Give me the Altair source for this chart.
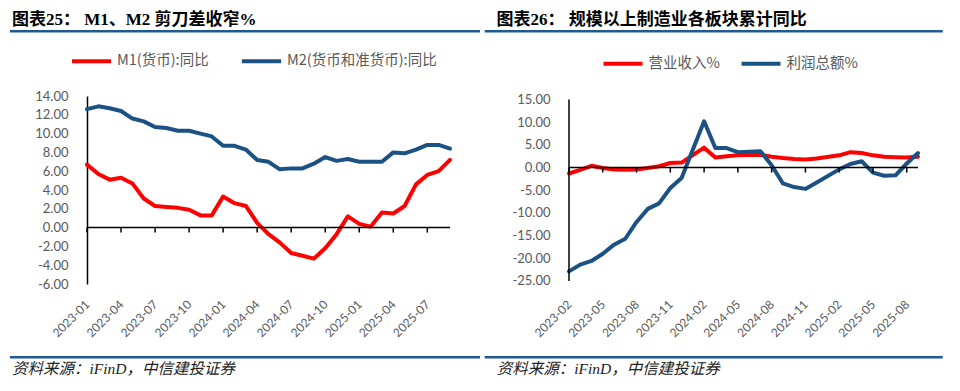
import altair as alt
import pandas as pd

# ---------------- data ----------------
left_months = [f"{y}-{m:02d}" for y in (2023, 2024, 2025) for m in range(1, 13)][:33]  # 2023-01 .. 2025-09
left_ticks = left_months[::3]
left_names = ["M1(货币):同比", "M2(货币和准货币):同比"]
m1 = [6.7, 5.7, 5.1, 5.3, 4.7, 3.1, 2.3, 2.2, 2.1, 1.9, 1.3, 1.3,
      3.3, 2.6, 2.3, 0.5, -0.7, -1.6, -2.7, -3.0, -3.3, -2.2, -0.7, 1.2,
      0.4, 0.1, 1.6, 1.5, 2.3, 4.6, 5.6, 6.0, 7.2]
m2 = [12.6, 12.9, 12.7, 12.4, 11.6, 11.3, 10.7, 10.6, 10.3, 10.3, 10.0, 9.7,
      8.7, 8.7, 8.3, 7.2, 7.0, 6.2, 6.3, 6.3, 6.8, 7.5, 7.1, 7.3,
      7.0, 7.0, 7.0, 8.0, 7.9, 8.3, 8.8, 8.8, 8.4]

right_months = [f"{y}-{m:02d}" for y in (2023, 2024, 2025) for m in range(1, 13)][1:33]  # 2023-02 .. 2025-09
right_ticks = right_months[::3]
right_data_months = [m for m in right_months if not m.endswith("-01")]  # Jan merged into Jan-Feb
right_names = ["营业收入%", "利润总额%"]
revenue = [-1.3, -0.5, 0.4, -0.1, -0.4, -0.5, -0.4, -0.1, 0.3, 1.0, 1.1,
           4.4, 2.2, 2.5, 2.7, 2.8, 2.8, 2.4, 2.1, 1.9, 1.8, 2.0,
           2.7, 3.4, 3.2, 2.7, 2.4, 2.3, 2.2, 2.4]
profit = [-22.9, -21.4, -20.6, -19.0, -17.0, -15.7, -12.0, -9.1, -7.9, -4.5, -2.3,
          10.2, 4.3, 4.3, 3.4, 3.5, 3.6, 0.5, -3.5, -4.3, -4.7, -3.3,
          -0.4, 0.8, 1.4, -1.1, -1.8, -1.7, 0.9, 3.2]

left_title = "图表25：  M1、M2 剪刀差收窄%"
right_title = "图表26：  规模以上制造业各板块累计同比"
source = "资料来源：iFinD，中信建投证券"

# ---------------- style ----------------
RED = "#FF0000"
BLUE = "#1B5283"
RULE_BLUE = "#1F5A8E"
GRAY = "#595959"
H = 188
TITLE_FONT = "Liberation Serif, Noto Sans CJK SC"
CJK = "Noto Sans CJK SC"


def build(months, ticks, data_months, names, series, ydom, yvals, width,
          legend_x, legend_y, col_pad, title, title_x, rule_x1, rule_x2,
          src_x, manual_yrule, anchor=False):
    rows = []
    for name, vals in zip(names, series):
        for m, v in zip(data_months, vals):
            rows.append({"m": m, "s": name, "v": v})
    df = pd.DataFrame(rows)

    def px(v):  # pixel position of a value on this panel's y range (for axis decorations)
        return H * (ydom[1] - v) / (ydom[1] - ydom[0])

    zero_px = px(0)

    xenc = alt.X("m:O",
                 scale=alt.Scale(type="point", domain=months, padding=0),
                 axis=alt.Axis(values=ticks, labelAngle=315, labelAlign="right",
                               labelBaseline="middle", labelPadding=18,
                               ticks=False, tickSize=0, domain=False, grid=False,
                               title=None, labelFont="Lato", labelFontSize=12,
                               labelColor=GRAY, labelOverlap=False))
    yscale = alt.Scale(domain=ydom, nice=False, zero=False)
    yaxis = alt.Axis(values=yvals,
                     labelExpr="replace(format(datum.value, '.2f'), '\u2212', '-')",
                     domain=not manual_yrule, domainColor="black", domainWidth=1.5,
                     ticks=False, tickSize=0, labelPadding=19, grid=False,
                     title=None, labelFont="Lato", labelFontSize=13,
                     labelColor=GRAY, labelOverlap=False, labelBound=False,
                     labelFlush=False)

    lines = alt.Chart(df).mark_line(strokeWidth=4, strokeJoin="round", strokeCap="round").encode(
        x=xenc,
        y=alt.Y("v:Q", scale=yscale, axis=yaxis),
        color=alt.Color("s:N", scale=alt.Scale(domain=names, range=[RED, BLUE]),
                        legend=alt.Legend(orient="none", legendX=legend_x, legendY=legend_y,
                                          direction="horizontal", title=None,
                                          symbolType="stroke", symbolSize=1521,
                                          symbolStrokeWidth=4, labelFont=CJK,
                                          labelFontSize=14.5, labelColor=GRAY,
                                          columnPadding=col_pad, labelOffset=4,
                                          padding=0)),
        order=alt.Order("m:O"),
    )

    one = pd.DataFrame({"t": [title]})
    zero = alt.Chart(one).mark_rule(color="black", strokeWidth=1.5).encode(
        y=alt.value(zero_px))
    tick_marks = alt.Chart(pd.DataFrame({"m": ticks})).mark_rule(color="black", strokeWidth=1.5).encode(
        x=xenc, y=alt.value(zero_px), y2=alt.value(zero_px + 5))

    title_mark = alt.Chart(one).mark_text(align="left", baseline="alphabetic", font=TITLE_FONT,
                                          fontSize=17, fontWeight="bold", color="black").encode(
        x=alt.value(title_x), y=alt.value(-71.5), text="t:N")
    top_rule = alt.Chart(one).mark_rule(color=RULE_BLUE, strokeWidth=2.5).encode(
        x=alt.value(rule_x1), x2=alt.value(rule_x2), y=alt.value(-64.7))
    bottom_rule = alt.Chart(one).mark_rule(color=RULE_BLUE, strokeWidth=2.5).encode(
        x=alt.value(rule_x1), x2=alt.value(rule_x2), y=alt.value(261.3))
    src = alt.Chart(pd.DataFrame({"t": [source]})).mark_text(
        align="left", baseline="alphabetic", font=TITLE_FONT, fontSize=15.5,
        fontStyle="italic", color="#222222").encode(
        x=alt.value(src_x), y=alt.value(277.5), text="t:N")

    layers = [lines, zero, tick_marks, title_mark, top_rule, bottom_rule, src]
    if manual_yrule:
        layers.append(alt.Chart(one).mark_rule(color="black", strokeWidth=1.5).encode(
            x=alt.value(0), y=alt.value(px(yvals[-1])), y2=alt.value(px(yvals[0]))))
    if anchor:
        layers.append(alt.Chart(one).mark_rule(opacity=0, strokeWidth=0).encode(
            x=alt.value(-79), x2=alt.value(-78), y=alt.value(-87.7)))
    return alt.layer(*layers).properties(width=width, height=H)


left = build(left_months, left_ticks, left_months, left_names, [m1, m2],
             [-6, 14], list(range(-6, 16, 2)), 363,
             -17, -56.5, 25, left_title, -75, -77, 393, -75, False, anchor=True)
right = build(right_months, right_ticks, right_data_months, right_names, [revenue, profit],
              [-25.68, 15.79], list(range(-25, 20, 5)), 349,
              32.5, -54.0, 13, right_title, -72.6, -84.3, 373.7, -72.3, True)

chart = alt.hconcat(left, right, spacing=119, bounds="flush").resolve_scale(
    color="independent").properties(padding=0).configure_view(
    stroke=None).configure_axis(labelOverlap=False)

chart.save("out.html", embed_options={"renderer": "svg", "actions": False})
